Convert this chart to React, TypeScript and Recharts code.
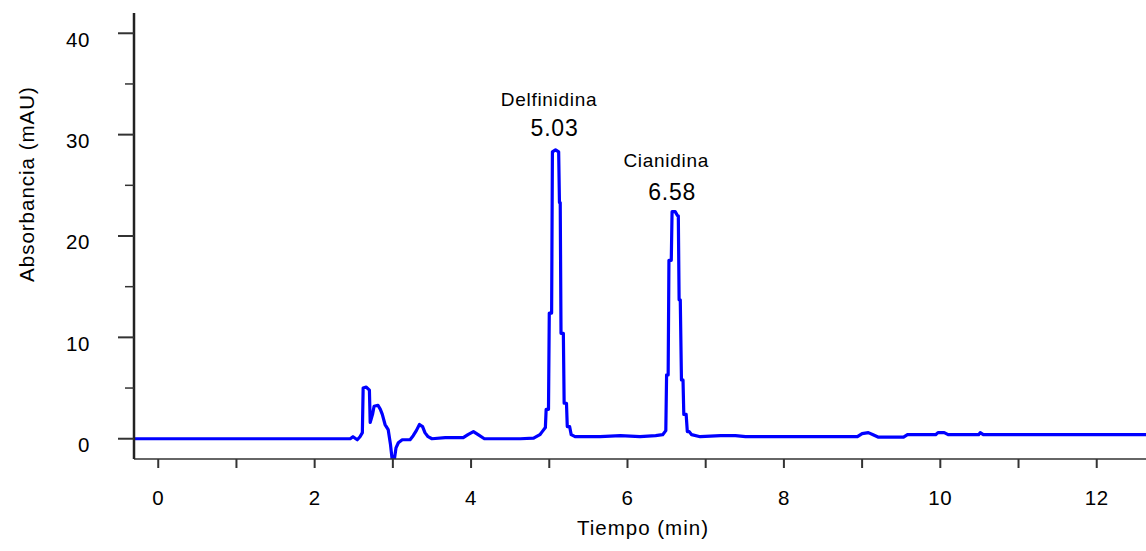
import React from "react"
import { LineChart, Line, XAxis, YAxis, ReferenceDot, Label } from "recharts"

// retention time (min) and absorbance (mAU)
const times = [
  -0.31, 2.455, 2.49, 2.545, 2.58, 2.61, 2.62, 2.66, 2.7, 2.71, 2.74, 2.76, 2.81, 2.84, 2.865, 2.9, 2.94, 2.97,
  2.99, 3.02, 3.04, 3.07, 3.12, 3.22, 3.26, 3.3, 3.34, 3.38, 3.41, 3.45, 3.5, 3.67, 3.9, 3.96, 4.03, 4.09, 4.17,
  4.63, 4.8, 4.88, 4.91, 4.95, 4.96, 4.99, 5.0, 5.03, 5.04, 5.08, 5.12, 5.13, 5.14, 5.15, 5.18, 5.19, 5.22, 5.23,
  5.26, 5.28, 5.33, 5.65, 5.91, 6.16, 6.36, 6.45, 6.49, 6.5, 6.52, 6.53, 6.56, 6.57, 6.61, 6.64, 6.65, 6.66, 6.675,
  6.69, 6.71, 6.72, 6.75, 6.765, 6.79, 6.82, 6.93, 7.19, 7.38, 7.51, 8.94, 9.0, 9.08, 9.14, 9.21, 9.53, 9.58, 9.94,
  9.97, 10.05, 10.1, 10.49, 10.51, 10.55, 12.63,
]
const absorbance = [
  0, 0, 0.2, -0.1, 0.2, 0.6, 5.0, 5.1, 4.8, 1.6, 2.4, 3.2, 3.3, 2.9, 2.4, 1.4, 0.9, -0.6,
  -2.0, -2.0, -0.9, -0.4, -0.1, -0.1, 0.3, 0.8, 1.4, 1.2, 0.6, 0.2, 0.0, 0.1, 0.1, 0.4, 0.7, 0.4, 0.0,
  0.0, 0.05, 0.4, 0.7, 1.1, 2.9, 2.9, 12.4, 12.4, 28.3, 28.5, 28.3, 23.3, 23.3, 10.4, 10.4, 3.5, 3.5, 1.2,
  1.2, 0.4, 0.2, 0.2, 0.3, 0.2, 0.3, 0.4, 0.8, 6.3, 6.3, 17.6, 17.6, 22.4, 22.4, 22.0, 22.0, 13.7, 13.7,
  5.8, 5.8, 2.4, 2.4, 0.7, 0.7, 0.4, 0.2, 0.3, 0.3, 0.2, 0.2, 0.5, 0.6, 0.4, 0.15, 0.15, 0.4, 0.4,
  0.6, 0.6, 0.4, 0.4, 0.6, 0.4, 0.4,
]

const xTicks = [0, 1, 2, 3, 4, 5, 6, 7, 8, 9, 10, 11, 12]
const yTicks = [0, 5, 10, 15, 20, 25, 30, 35, 40]

const peakNames = ["Delfinidina", "Cianidina"]
const peakRt = ["5.03", "6.58"]
const peakApexT = [5.08, 6.61]
const peakApexV = [28.5, 22.4]

const FONT = "'Liberation Sans', Arial, sans-serif"

const data = times.map((t, i) => ({ t, v: absorbance[i] }))

function XTick(props: any) {
  const { x, y, payload } = props
  if (payload.value % 2 !== 0) return <g />
  return (
    <text x={x} y={y + 37} textAnchor="middle" fontSize={20.5} fontFamily={FONT} fill="#000" letterSpacing={0.6}>
      {payload.value}
    </text>
  )
}

function YTick(props: any) {
  const { x, y, payload } = props
  const major = payload.value % 10 === 0
  return (
    <g>
      <line x1={x - (major ? 16 : 9)} x2={x} y1={y} y2={y} stroke="#333" strokeWidth={major ? 2 : 1.5} />
      {major && (
        <text x={x - 44} y={y + 13.3} textAnchor="end" fontSize={20.5} fontFamily={FONT} fill="#000" letterSpacing={0.6}>
          {payload.value}
        </text>
      )}
    </g>
  )
}

function peakLabel(i: number) {
  return (props: any) => {
    const vb = props.viewBox || {}
    const cx = vb.x + (vb.width || 0) / 2
    const cy = vb.y + (vb.height || 0) / 2
    const nameDy = i === 0 ? -44 : -45
    const nameDx = i === 0 ? -6.5 : -9
    const rtDy = i === 0 ? -14 : -12
    const rtDx = i === 0 ? -1 : -3
    return (
      <g>
        <text x={cx + nameDx} y={cy + nameDy} textAnchor="middle" fontSize={19} fontFamily={FONT} fill="#000" letterSpacing={0.7}>
          {peakNames[i]}
        </text>
        <text x={cx + rtDx} y={cy + rtDy} textAnchor="middle" fontSize={23} fontFamily={FONT} fill="#000" letterSpacing={0.8}>
          {peakRt[i]}
        </text>
      </g>
    )
  }
}

export default function App() {
  return (
    <div style={{ position: "absolute", left: 0, top: 0, width: 1146, height: 551, background: "#fff" }}>
      <LineChart width={1146} height={551} data={data} margin={{ top: 13, right: 0, bottom: 0, left: 0 }}>
        <XAxis
          type="number"
          dataKey="t"
          domain={[-0.31, 12.63]}
          ticks={xTicks}
          interval={0}
          allowDataOverflow
          height={92}
          tickSize={9}
          tickMargin={0}
          axisLine={{ stroke: "#333", strokeWidth: 1.5 }}
          tickLine={{ stroke: "#333", strokeWidth: 2 }}
          tick={<XTick />}
        >
          <Label
            content={(p: any) => {
              const vb = p.viewBox
              return (
                <text x={vb.x + vb.width / 2 + 3} y={vb.y + 76} textAnchor="middle" fontSize={20.5} fontFamily={FONT} fill="#000" letterSpacing={1}>
                  Tiempo (min)
                </text>
              )
            }}
          />
        </XAxis>
        <YAxis
          type="number"
          domain={[-2, 42]}
          ticks={yTicks}
          interval={0}
          allowDataOverflow
          width={134}
          tickSize={0}
          tickMargin={0}
          tickLine={false}
          axisLine={{ stroke: "#222", strokeWidth: 2.5 }}
          tick={<YTick />}
        >
          <Label
            content={(p: any) => {
              const vb = p.viewBox
              const lx = vb.x + 34
              const ly = vb.y + 171
              return (
                <text x={lx} y={ly} transform={`rotate(-90 ${lx} ${ly})`} textAnchor="middle" fontSize={20.5} fontFamily={FONT} fill="#000" letterSpacing={1}>
                  Absorbancia (mAU)
                </text>
              )
            }}
          />
        </YAxis>
        <Line type="linear" dataKey="v" stroke="#0000ff" strokeWidth={3.2} strokeLinejoin="round" dot={false} isAnimationActive={false} />
        {peakNames.map((n, i) => (
          <ReferenceDot key={n} x={peakApexT[i]} y={peakApexV[i]} r={0} fill="none" stroke="none" label={peakLabel(i)} />
        ))}
      </LineChart>
    </div>
  )
}
